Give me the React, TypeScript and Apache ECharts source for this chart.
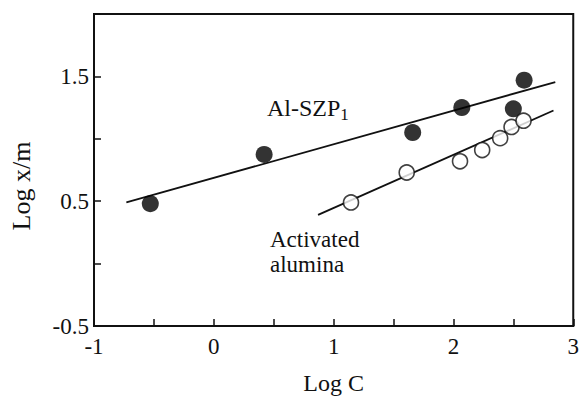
import React, { useEffect, useRef } from "react";
import * as echarts from "echarts";

const szpX = [-0.53, 0.42, 1.66, 2.07, 2.5, 2.59];
const szpY = [0.48, 0.875, 1.05, 1.25, 1.24, 1.47];
const aluX = [1.145, 1.61, 2.055, 2.24, 2.39, 2.485, 2.585];
const aluY = [0.49, 0.73, 0.82, 0.91, 1.005, 1.095, 1.145];
const szpFitX = [-0.73, 2.85];
const szpFitY = [0.49, 1.455];
const aluFitX = [0.87, 2.835];
const aluFitY = [0.39, 1.227];
const yLabels = [-0.5, 0.5, 1.5];
const xLabels = [-1, 0, 1, 2, 3];

const FONT = "Liberation Serif";

export default function App() {
  const ref = useRef<HTMLDivElement>(null);
  useEffect(() => {
    if (!ref.current) return;
    const chart = echarts.init(ref.current, null, { renderer: "svg" });
    const near = (v: number, arr: number[]) => arr.some((a) => Math.abs(a - v) < 1e-6);
    chart.setOption({
      animation: false,
      backgroundColor: "#fff",
      textStyle: { fontFamily: FONT },
      grid: {
        left: 86,
        top: 14,
        right: 6,
        bottom: 68,
        show: true,
        borderColor: "#111",
        borderWidth: 2,
      },
      xAxis: {
        type: "value",
        min: -1,
        max: 3,
        interval: 0.5,
        name: "Log C",
        nameLocation: "middle",
        nameGap: 45,
        nameTextStyle: { fontFamily: FONT, fontSize: 24, color: "#111" },
        axisLine: { onZero: false, lineStyle: { color: "#111", width: 2 } },
        axisTick: { inside: true, length: 7, lineStyle: { color: "#111", width: 1.5 } },
        splitLine: { show: false },
        axisLabel: {
          fontFamily: FONT,
          fontSize: 23,
          color: "#111",
          margin: 9,
          formatter: (v: number) => (near(v, xLabels) ? String(v) : ""),
        },
      },
      yAxis: {
        type: "value",
        min: -0.5,
        max: 2,
        interval: 0.5,
        name: "Log x/m",
        nameLocation: "middle",
        nameGap: 60,
        nameRotate: 90,
        nameTextStyle: {
          fontFamily: FONT,
          fontSize: 26,
          color: "#111",
          padding: [0, 32, 0, 0],
        },
        axisLine: { onZero: false, lineStyle: { color: "#111", width: 2 } },
        axisTick: { inside: true, length: 7, lineStyle: { color: "#111", width: 1.5 } },
        splitLine: { show: false },
        axisLabel: {
          fontFamily: FONT,
          fontSize: 23,
          color: "#111",
          margin: 5,
          formatter: (v: number) => (near(v, yLabels) ? String(v) : ""),
        },
      },
      series: [
        {
          type: "line",
          data: szpFitX.map((x, i) => [x, szpFitY[i]]),
          showSymbol: false,
          lineStyle: { color: "#111", width: 1.8 },
          z: 1,
        },
        {
          type: "line",
          data: aluFitX.map((x, i) => [x, aluFitY[i]]),
          showSymbol: false,
          lineStyle: { color: "#111", width: 1.8 },
          z: 1,
        },
        {
          type: "scatter",
          data: szpX.map((x, i) => [x, szpY[i]]),
          symbol: "circle",
          symbolSize: 17,
          itemStyle: { color: "#000" },
          z: 3,
        },
        {
          type: "scatter",
          data: aluX.map((x, i) => [x, aluY[i]]),
          symbol: "circle",
          symbolSize: 15,
          itemStyle: { color: "#fff", borderColor: "#111", borderWidth: 1.6 },
          z: 3,
        },
      ],
      graphic: [
        {
          type: "text",
          left: 267,
          top: 96,
          style: {
            text: "{a|Al-SZP}{b|1}",
            rich: {
              a: { fontFamily: FONT, fontSize: 24, fill: "#111" },
              b: { fontFamily: FONT, fontSize: 17, fill: "#111", padding: [12, 0, 0, 0] },
            },
          },
        },
        {
          type: "text",
          left: 270,
          top: 228,
          style: {
            text: "Activated",
            fontFamily: FONT,
            fontSize: 23,
            fill: "#111",
          },
        },
        {
          type: "text",
          left: 270,
          top: 253,
          style: {
            text: "alumina",
            fontFamily: FONT,
            fontSize: 23,
            fill: "#111",
          },
        },
      ],
    });
    return () => chart.dispose();
  }, []);
  return (
    <div
      ref={ref}
      style={{ position: "fixed", left: 0, top: 0, width: 582, height: 400, background: "#fff" }}
    />
  );
}
